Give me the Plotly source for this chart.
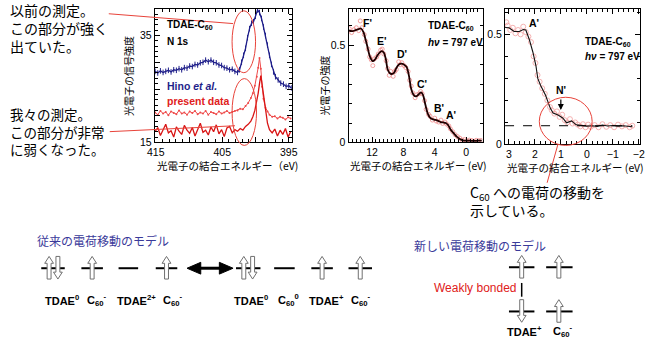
import plotly.graph_objects as go

# ---------------- data ----------------
# Panel 1: N 1s core level (binding energy eV, intensity)
hino_E = [415.1, 414.7, 414.3, 413.9, 413.5, 413.1, 412.7, 412.3, 411.9, 411.5,
          411.1, 410.7, 410.3, 409.9, 409.5, 409.1, 408.7, 408.3, 407.9, 407.5,
          407.1, 406.7, 406.3, 405.9, 405.5, 405.1, 404.7, 404.3, 403.9, 403.5,
          403.1, 402.7, 402.4, 402.1, 401.8, 401.5, 401.2, 400.9, 400.6, 400.3,
          400.0, 399.7, 399.4, 399.1, 398.8, 398.5, 398.2, 397.9, 397.6, 397.3,
          397.0, 396.6, 396.2, 395.8, 395.4, 395.0, 394.6]
hino_I = [28.3, 28.0, 28.4, 28.1, 28.3, 28.5, 28.2, 28.6, 28.5, 28.8,
          28.6, 29.0, 28.9, 29.3, 29.2, 29.6, 29.5, 29.9, 30.0, 30.4,
          30.1, 30.4, 30.0, 29.9, 29.5, 29.4, 29.0, 28.9, 28.6, 28.7,
          28.3, 28.1, 28.6, 30.0, 31.3, 32.6, 34.6, 36.3, 37.3, 37.6,
          38.6, 39.8, 39.3, 38.2, 36.6, 35.0, 33.2, 31.3, 29.6, 28.2,
          27.3, 26.7, 26.1, 25.9, 25.5, 25.6, 25.2]

present_E = [415.1, 414.7, 414.3, 413.9, 413.5, 413.1, 412.7, 412.3, 411.9, 411.5,
             411.1, 410.7, 410.3, 409.9, 409.5, 409.1, 408.7, 408.3, 407.9, 407.5,
             407.1, 406.7, 406.3, 405.9, 405.5, 405.1, 404.7, 404.3, 403.9, 403.5,
             403.1, 402.7, 402.3, 401.9, 401.5, 401.1, 400.7, 400.4, 400.1, 399.8,
             399.6, 399.4, 399.2, 399.0, 398.8, 398.5, 398.2, 397.9, 397.5, 397.1,
             396.7, 396.3, 395.9, 395.5, 395.1, 394.7]
present_a_I = [20.6, 20.2, 20.9, 20.4, 20.7, 20.1, 20.8, 20.5, 20.3, 21.0,
               20.4, 20.6, 20.2, 20.8, 20.5, 20.9, 20.3, 20.6, 20.4, 20.9,
               20.2, 20.7, 20.5, 20.3, 20.8, 20.4, 20.6, 20.9, 20.5, 20.7,
               20.9, 21.0, 21.3, 21.2, 21.8, 22.4, 23.3, 24.2, 25.6, 27.3,
               29.0, 30.8, 28.8, 25.4, 23.2, 21.5, 20.8, 20.2, 19.8, 19.9,
               19.5, 19.8, 19.6, 19.3, 19.7, 19.5]
present_b_I = [17.0, 17.8, 16.3, 17.5, 18.4, 16.8, 17.2, 16.0, 17.9, 17.1,
               16.5, 18.2, 17.3, 16.7, 17.8, 16.2, 17.5, 18.6, 16.9, 17.3,
               16.4, 17.9, 17.0, 18.3, 16.6, 17.4, 16.1, 17.7, 18.0, 16.8,
               17.4, 17.1, 17.6, 17.3, 18.0, 18.4, 19.0, 19.8, 21.0, 22.6,
               24.2, 26.0, 27.5, 25.8, 23.8, 20.6, 18.6, 17.4, 16.8, 17.5,
               16.2, 17.3, 16.5, 17.6, 16.0, 17.1]

# Panel 2: valence band, wide range
vb_E = [15.0, 14.5, 14.1, 13.7, 13.4, 13.1, 12.8, 12.6, 12.25, 11.9,
        11.6, 11.3, 11.0, 10.75, 10.5, 10.25, 10.0, 9.75, 9.5, 9.2,
        8.9, 8.6, 8.25, 7.9, 7.6, 7.3, 7.0, 6.7, 6.4, 6.1,
        5.75, 5.5, 5.2, 4.9, 4.6, 4.3, 3.9, 3.5, 3.25, 2.9,
        2.6, 2.3, 2.0, 1.6, 1.2, 0.8, 0.4, 0.0, -0.5, -1.0,
        -1.5, -2.0]
vb_I = [0.576, 0.572, 0.578, 0.583, 0.586, 0.568, 0.525, 0.495, 0.440, 0.418,
        0.428, 0.448, 0.463, 0.470, 0.462, 0.430, 0.375, 0.357, 0.352, 0.358,
        0.382, 0.400, 0.405, 0.400, 0.389, 0.345, 0.275, 0.245, 0.237, 0.245,
        0.258, 0.245, 0.195, 0.150, 0.128, 0.120, 0.116, 0.110, 0.105, 0.103,
        0.100, 0.090, 0.068, 0.048, 0.030, 0.018, 0.011, 0.009, 0.009, 0.008,
        0.009, 0.009]
vb_pts_E = [14.9, 14.6, 14.3, 14.0, 13.7, 13.5, 13.3, 13.0, 12.8, 12.5,
            12.3, 12.1, 11.9, 11.7, 11.4, 11.2, 10.9, 10.7, 10.5, 10.2,
            10.0, 9.8, 9.6, 9.3, 9.1, 8.9, 8.6, 8.4, 8.2, 7.9,
            7.7, 7.4, 7.2, 7.0, 6.8, 6.5, 6.3, 6.0, 5.8, 5.6,
            5.3, 5.1, 4.8, 4.6, 4.3, 4.0, 3.8, 3.5, 3.2, 3.0,
            2.7, 2.5, 2.2, 2.0, 1.7, 1.4, 1.1, 0.8, 0.5, 0.2,
            -0.1, -0.4, -0.7, -1.0, -1.3, -1.6, -1.9]
vb_pts_I = [0.585, 0.565, 0.580, 0.590, 0.575, 0.625, 0.590, 0.555, 0.520, 0.480,
            0.440, 0.425, 0.395, 0.430, 0.440, 0.455, 0.475, 0.480, 0.455, 0.420,
            0.380, 0.345, 0.365, 0.340, 0.365, 0.375, 0.415, 0.400, 0.410, 0.395,
            0.385, 0.365, 0.320, 0.290, 0.255, 0.230, 0.245, 0.250, 0.262, 0.250,
            0.215, 0.170, 0.145, 0.135, 0.115, 0.125, 0.110, 0.105, 0.115, 0.098,
            0.105, 0.095, 0.085, 0.070, 0.055, 0.040, 0.030, 0.022, 0.012, 0.015,
            0.008, 0.012, 0.010, 0.006, 0.011, 0.009, 0.010]

# Panel 3: near Fermi level
nf_E = [3.15, 3.0, 2.8, 2.6, 2.45, 2.35, 2.22, 2.08, 1.96, 1.89,
        1.78, 1.59, 1.41, 1.30, 1.11, 0.93, 0.78, 0.59, 0.41, 0.22,
        0.0, -0.2, -0.4, -0.6, -0.8, -1.0, -1.2, -1.4, -1.6, -1.75]
nf_I = [0.531, 0.530, 0.513, 0.513, 0.522, 0.520, 0.478, 0.420, 0.357, 0.300,
        0.268, 0.223, 0.165, 0.143, 0.134, 0.120, 0.098, 0.107, 0.089, 0.085,
        0.083, 0.085, 0.082, 0.088, 0.084, 0.086, 0.083, 0.085, 0.082, 0.080]
nf_pts_E = [3.1, 3.05, 2.95, 2.85, 2.75, 2.65, 2.55, 2.45, 2.35, 2.25,
            2.15, 2.05, 1.98, 1.9, 1.82, 1.72, 1.62, 1.52, 1.42, 1.35,
            1.25, 1.15, 1.05, 0.95, 0.85, 0.75, 0.65, 0.55, 0.45, 0.35,
            0.25, 0.15, 0.05, -0.05, -0.15, -0.3, -0.45, -0.6, -0.75, -0.9,
            -1.05, -1.2, -1.35, -1.5, -1.65, -1.75]
nf_pts_I = [0.555, 0.540, 0.520, 0.530, 0.505, 0.520, 0.500, 0.535, 0.510, 0.490,
            0.465, 0.400, 0.370, 0.315, 0.285, 0.255, 0.230, 0.200, 0.170, 0.155,
            0.140, 0.150, 0.125, 0.135, 0.110, 0.100, 0.115, 0.095, 0.100, 0.090,
            0.082, 0.092, 0.078, 0.090, 0.080, 0.088, 0.078, 0.092, 0.080, 0.088,
            0.078, 0.090, 0.082, 0.088, 0.078, 0.085]
nf_baseline = 0.085

peak_labels_vb = ["F'", "E'", "D'", "C'", "B'", "A'"]

# ---------------- helpers (pixel -> paper) ----------------
W, H = 650, 343
def X(px):
    return px / W
def Y(py):
    return 1 - py / H

EN = "Liberation Sans, Arial, sans-serif"
JP = "Noto Sans CJK JP"
RED = "#e8433a"
NAVY = "#1f1f8a"

fig = go.Figure()

# panel 1
fig.add_trace(go.Scatter(x=hino_E, y=hino_I, mode="lines+markers",
                         line=dict(color=NAVY, width=1.3),
                         marker=dict(symbol="line-ns-open", size=4, line=dict(color=NAVY, width=1)),
                         xaxis="x", yaxis="y", showlegend=False))
fig.add_trace(go.Scatter(x=present_E, y=present_a_I, mode="lines+markers",
                         line=dict(color="#ee4a4a", width=1),
                         marker=dict(size=2, color="#ee4a4a"),
                         xaxis="x", yaxis="y", showlegend=False))
fig.add_trace(go.Scatter(x=present_E, y=present_b_I, mode="lines",
                         line=dict(color="#d81414", width=1.3),
                         xaxis="x", yaxis="y", showlegend=False))
# panel 2
fig.add_trace(go.Scatter(x=vb_pts_E, y=vb_pts_I, mode="markers",
                         marker=dict(symbol="circle-open", size=4, color="#f08a8a", line=dict(width=0.8)),
                         xaxis="x2", yaxis="y2", showlegend=False))
fig.add_trace(go.Scatter(x=vb_E, y=vb_I, mode="lines", line=dict(color="#200000", width=1.8, shape="spline"),
                         xaxis="x2", yaxis="y2", showlegend=False))
# panel 3
fig.add_trace(go.Scatter(x=nf_pts_E, y=nf_pts_I, mode="markers",
                         marker=dict(symbol="circle-open", size=5, color="#f2a0a0", line=dict(width=0.8)),
                         xaxis="x3", yaxis="y3", showlegend=False))
fig.add_trace(go.Scatter(x=nf_E, y=nf_I, mode="lines", line=dict(color="#111111", width=1.1),
                         xaxis="x3", yaxis="y3", showlegend=False))

def ax_style(**kw):
    d = dict(showline=True, linecolor="black", linewidth=1, mirror="allticks",
             ticks="inside", ticklen=5, tickcolor="black", showgrid=False, zeroline=False,
             tickfont=dict(family=EN, size=10.5, color="black"), fixedrange=True)
    d.update(kw)
    return d

minor = lambda dt: dict(ticks="inside", ticklen=3, dtick=dt, tickcolor="black", showgrid=False)

fig.update_layout(
    width=W, height=H, margin=dict(l=0, r=0, t=0, b=0),
    paper_bgcolor="white", plot_bgcolor="white",
    xaxis=ax_style(domain=[X(150), X(290)], range=[415.15, 394.55], anchor="y",
                   tickvals=[415, 410, 405, 400, 395], ticktext=["415", "", "405", "", "395"],
                   minor=minor(1)),
    yaxis=ax_style(domain=[Y(145), Y(9)], range=[15, 40], anchor="x",
                   tickvals=[15, 20, 25, 30, 35, 40], ticktext=["15", "", "", "", "35", ""],
                   minor=minor(1)),
    xaxis2=ax_style(domain=[X(348), X(485)], range=[15, -2.1], anchor="y2",
                    tickvals=[12, 8, 4, 0], minor=minor(0.5)),
    yaxis2=ax_style(domain=[Y(145), Y(9)], range=[0, 0.687], anchor="x2",
                    tickvals=[0, 0.5], ticktext=["0", "0.5"], minor=minor(0.1)),
    xaxis3=ax_style(domain=[X(508), X(646)], range=[3.15, -2.05], anchor="y3",
                    tickvals=[3, 2, 1, 0, -1, -2], minor=minor(0.2)),
    yaxis3=ax_style(domain=[Y(147), Y(9)], range=[0, 0.616], anchor="x3",
                    tickvals=[0, 0.5], ticktext=["0", "0.5"], minor=minor(0.1)),
)

ann = []
def txt(x, y, s, size=11, color="black", family=EN, xanchor="center", bold=False, angle=0):
    if bold:
        s = "<b>" + s + "</b>"
    ann.append(dict(x=X(x), y=Y(y), xref="paper", yref="paper", text=s, showarrow=False,
                    xanchor=xanchor, yanchor="middle", textangle=angle, align="left",
                    font=dict(size=size, color=color, family=family)))

# Japanese notes
txt(0, 28, "以前の測定。<br>この部分が強く<br>出ていた。", size=14, family=JP, xanchor="left")
txt(0, 134, "我々の測定。<br>この部分が非常<br>に弱くなった。", size=13.5, family=JP, xanchor="left")
txt(470, 205, "C<sub>60</sub> への電荷の移動を<br>示している。", size=14, family=JP, xanchor="left")

# axis titles
txt(224, 168, "光電子の結合エネルギー（eV)", size=10.5, family=JP)
txt(420, 168, "光電子の結合エネルギー (eV)", size=10.5, family=JP)
txt(580, 170, "光電子の結合エネルギー (eV)", size=10.5, family=JP)
txt(123, 77, "光電子の信号強度", size=10, family=JP, angle=-90)
txt(323, 87, "光電子の強度", size=10, family=JP, angle=-90)

# panel texts
txt(160, 25, "TDAE-C<sub>60</sub>", size=10, bold=True, xanchor="left")
txt(160, 42, "N 1s", size=10, bold=True, xanchor="left")
txt(160, 88, "Hino <i>et al.</i>", size=10.5, color=NAVY, bold=True, xanchor="left")
txt(160, 103, "present data", size=10.5, color="#e02020", bold=True, xanchor="left")
txt(427, 26, "TDAE-C<sub>60</sub>", size=10, bold=True, xanchor="left")
txt(427, 43, "<i>hν</i> = 797 eV", size=10, bold=True, xanchor="left")
txt(588, 43, "TDAE-C<sub>60</sub>", size=10, bold=True, xanchor="left")
txt(588, 58, "<i>hν</i> = 797 eV", size=10, bold=True, xanchor="left")
for lab, (px, py) in zip(peak_labels_vb, [(367, 23), (382, 42), (403, 55), (423, 85), (440, 110), (453, 117)]):
    txt(px, py, lab, size=10.5, bold=True)
txt(538, 23, "A'", size=10.5, bold=True)
txt(565, 92, "N'", size=10.5, bold=True)
ann.append(dict(x=X(565), y=Y(112), xref="paper", yref="paper", ax=0, ay=-12,
                showarrow=True, arrowhead=2, arrowsize=1, arrowwidth=1.2, arrowcolor="black", text=""))

# bottom diagrams
txt(28, 245, "従来の電荷移動のモデル", size=12, color="#3a3a9a", family=JP, xanchor="left")
txt(413, 250, "新しい電荷移動のモデル", size=12, color="#3a3a9a", family=JP, xanchor="left")
for px, s in [(55, "TDAE<sup>0</sup>"), (91, "C<sub>60</sub><sup>-</sup>"), (131, "TDAE<sup>2+</sup>"),
              (169, "C<sub>60</sub><sup>-</sup>"), (248, "TDAE<sup>0</sup>"), (287, "C<sub>60</sub><sup>0</sup>"),
              (325, "TDAE<sup>+</sup>"), (361, "C<sub>60</sub><sup>-</sup>")]:
    txt(px, 305, s, size=11, bold=True)
txt(528, 337, "TDAE<sup>+</sup>", size=11, bold=True)
txt(567, 337, "C<sub>60</sub><sup>-</sup>", size=11, bold=True)
txt(522, 293, "Weakly bonded", size=12, color="#e02020", xanchor="right")

shapes = []
def line(x0, y0, x1, y1, color="black", width=1, dash="solid"):
    shapes.append(dict(type="line", xref="paper", yref="paper", x0=X(x0), y0=Y(y0), x1=X(x1), y1=Y(y1),
                       line=dict(color=color, width=width, dash=dash)))
def ellipse(x0, y0, x1, y1):
    shapes.append(dict(type="circle", xref="paper", yref="paper", x0=X(x0), y0=Y(y1), x1=X(x1), y1=Y(y0),
                       line=dict(color=RED, width=1)))
def poly(pts, fill, color, width=1):
    p = "M " + " L ".join(f"{X(a):.5f},{Y(b):.5f}" for a, b in pts) + " Z"
    shapes.append(dict(type="path", xref="paper", yref="paper", path=p, fillcolor=fill,
                       line=dict(color=color, width=width)))
def spin(cx, yt, yb, up=True):
    hw, HW, hh = 2.0, 4.5, 7
    if up:
        pts = [(cx - hw, yb), (cx - hw, yt + hh), (cx - HW, yt + hh), (cx, yt),
               (cx + HW, yt + hh), (cx + hw, yt + hh), (cx + hw, yb)]
    else:
        pts = [(cx - hw, yt), (cx - hw, yb - hh), (cx - HW, yb - hh), (cx, yb),
               (cx + HW, yb - hh), (cx + hw, yb - hh), (cx + hw, yt)]
    poly(pts, "white", "#707070", 1)

# red ellipses and pointer lines
ellipse(229, 11, 253, 74)
ellipse(229, 80, 254, 148)
ellipse(543, 99, 597, 148)
line(103, 14, 230, 24, RED, 1)
line(104, 134, 232, 128, RED, 1)
line(562, 147, 551, 186, RED, 1)

# dashed baseline in panel 3
shapes.append(dict(type="line", xref="x3", yref="y3", x0=3.15, x1=-1.75, y0=nf_baseline, y1=nf_baseline,
                   line=dict(color="black", width=1, dash="dash")))

# left model
LV = 273
for x0, x1 in [(34, 58), (75, 97), (113, 133), (151, 173), (233, 258), (272, 293), (310, 332), (348, 372)]:
    line(x0, LV, x1, LV, "black", 2)
for cx, up in [(42, True), (51, False), (86, True), (162, True), (241, True), (250, False), (321, True), (360, True)]:
    spin(cx, 261, 284, up)
line(195, LV, 218, LV, "black", 3)
poly([(183, LV), (197, LV - 6), (197, LV + 6)], "black", "black", 1)
poly([(230, LV), (216, LV - 6), (216, LV + 6)], "black", "black", 1)

# right model
for yl in (272, 317):
    line(512, yl, 538, yl, "black", 2)
    line(550, yl, 577, yl, "black", 2)
spin(525, 260, 283, True)
spin(563, 260, 283, True)
spin(525, 305, 328, False)
spin(563, 305, 328, True)
line(525, 288, 525, 302, "black", 1.5)

fig.update_layout(annotations=ann, shapes=shapes)
fig.write_html("out.html")
